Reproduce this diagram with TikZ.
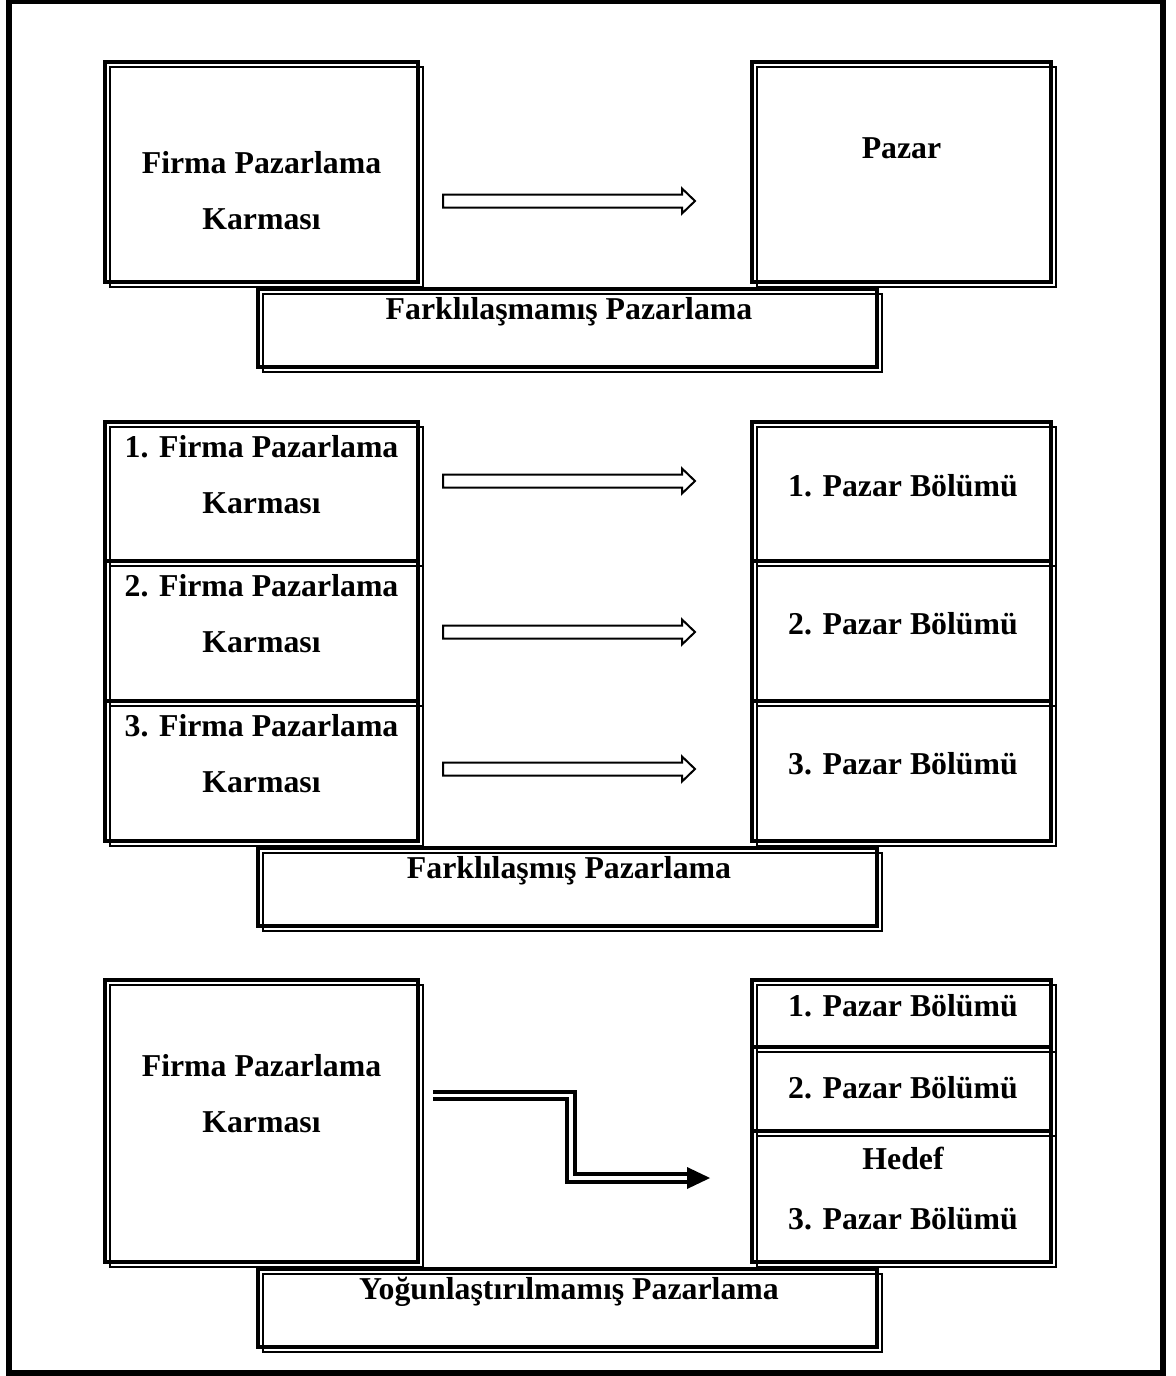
\documentclass[tikz,border=0pt]{standalone}
\usepackage{fontspec}
\setmainfont{Liberation Serif}
\usetikzlibrary{fit}
\newcommand\framegap{4.5}
\newcommand\hollowarrow[2]{%
  \coordinate (#1) at (443,#2);
  \draw[blockarrow] (443,#2-6.5) -- (682,#2-6.5) -- (682,#2-12.5) -- (695,#2)
    -- (682,#2+12.5) -- (682,#2+6.5) -- (443,#2+6.5) -- cycle;}
\tikzset{
  dbox/.style={draw, line width=2pt, inner sep=0pt, outer sep=0pt},
  thinline/.style={line width=1pt},
  txt/.style={font=\bfseries\fontsize{15.9}{27.75}\selectfont, align=center, anchor=base, inner sep=0pt},
  blockarrow/.style={draw, line width=1pt, line join=miter},
  doubleline/.style={draw, line width=1.9pt, double=white, double distance=1.9pt, line join=miter}
}
\begin{document}
\begin{tikzpicture}[x=0.5pt,y=-0.5pt]
  \useasboundingbox (0,0) rectangle (1176,1376);
  \draw[line width=3pt] (9,1) rectangle (1163,1373);

  % undifferentiated
  \node[dbox, fit={(105,62) (418,282)}] (firmaA) {};
  \node[dbox, fit={(752,62) (1051,282)}] (pazarA) {};
  \node[dbox, fit={(258,289) (877,367)}] (labelA) {};
  \node[txt] (tfirmaA) at (261.5,229) {Firma Pazarlama\\Karması};
  \node[txt] (tpazarA) at (901.5,158) {Pazar};
  \node[txt] (tlabelA) at (569,319) {Farklılaşmamış Pazarlama};
  \hollowarrow{arrA}{201}

  % differentiated
  \node[dbox, fit={(105,422) (418,561)}] (firmaB1) {};
  \node[dbox, fit={(105,561) (418,701)}] (firmaB2) {};
  \node[dbox, fit={(105,701) (418,841)}] (firmaB3) {};
  \node[dbox, fit={(752,422) (1051,561)}] (segB1) {};
  \node[dbox, fit={(752,561) (1051,701)}] (segB2) {};
  \node[dbox, fit={(752,701) (1051,841)}] (segB3) {};
  \node[dbox, fit={(258,848) (877,926)}] (labelB) {};
  \node[txt] (tfirmaB1) at (261.5,513) {1. Firma Pazarlama\\Karması};
  \node[txt] (tfirmaB2) at (261.5,652) {2. Firma Pazarlama\\Karması};
  \node[txt] (tfirmaB3) at (261.5,792) {3. Firma Pazarlama\\Karması};
  \node[txt] (tsegB1) at (903,496) {1. Pazar Bölümü};
  \node[txt] (tsegB2) at (903,634) {2. Pazar Bölümü};
  \node[txt] (tsegB3) at (903,774) {3. Pazar Bölümü};
  \node[txt] (tlabelB) at (569,878) {Farklılaşmış Pazarlama};
  \hollowarrow{arrB1}{481}
  \hollowarrow{arrB2}{632}
  \hollowarrow{arrB3}{769}

  % concentrated
  \node[dbox, fit={(105,980) (418,1262)}] (firmaC) {};
  \node[dbox, fit={(752,980) (1051,1047)}] (segC1) {};
  \node[dbox, fit={(752,1047) (1051,1131)}] (segC2) {};
  \node[dbox, fit={(752,1131) (1051,1262)}] (segC3) {};
  \node[dbox, fit={(258,1269) (877,1347)}] (labelC) {};
  \node[txt] (tfirmaC) at (261.5,1132) {Firma Pazarlama\\Karması};
  \node[txt] (tsegC1) at (903,1016) {1. Pazar Bölümü};
  \node[txt] (tsegC2) at (903,1098) {2. Pazar Bölümü};
  \node[txt] (tsegC3) at (903,1229) {Hedef\\[2pt]3. Pazar Bölümü};
  \node[txt] (tlabelC) at (569,1299) {Yoğunlaştırılmamış Pazarlama};

  \coordinate (zstart) at (433,1095.5);
  \coordinate (zend) at (710,1178);
  \draw[doubleline] (zstart) -- (571,1095.5) -- (571,1178) -- ([xshift=-10]zend);
  \fill (zend) -- ++(-23,-11) -- ++(0,22) -- cycle;

  % thin offset lines of the frames
  \foreach \b in {firmaA,pazarA,labelA,firmaB1,firmaB2,firmaB3,segB1,segB2,segB3,labelB,firmaC,segC1,segC2,segC3,labelC}
    \draw[thinline] ([shift={(\framegap,\framegap)}]\b.north west) rectangle ([shift={(\framegap,\framegap)}]\b.south east);
\end{tikzpicture}
\end{document}
